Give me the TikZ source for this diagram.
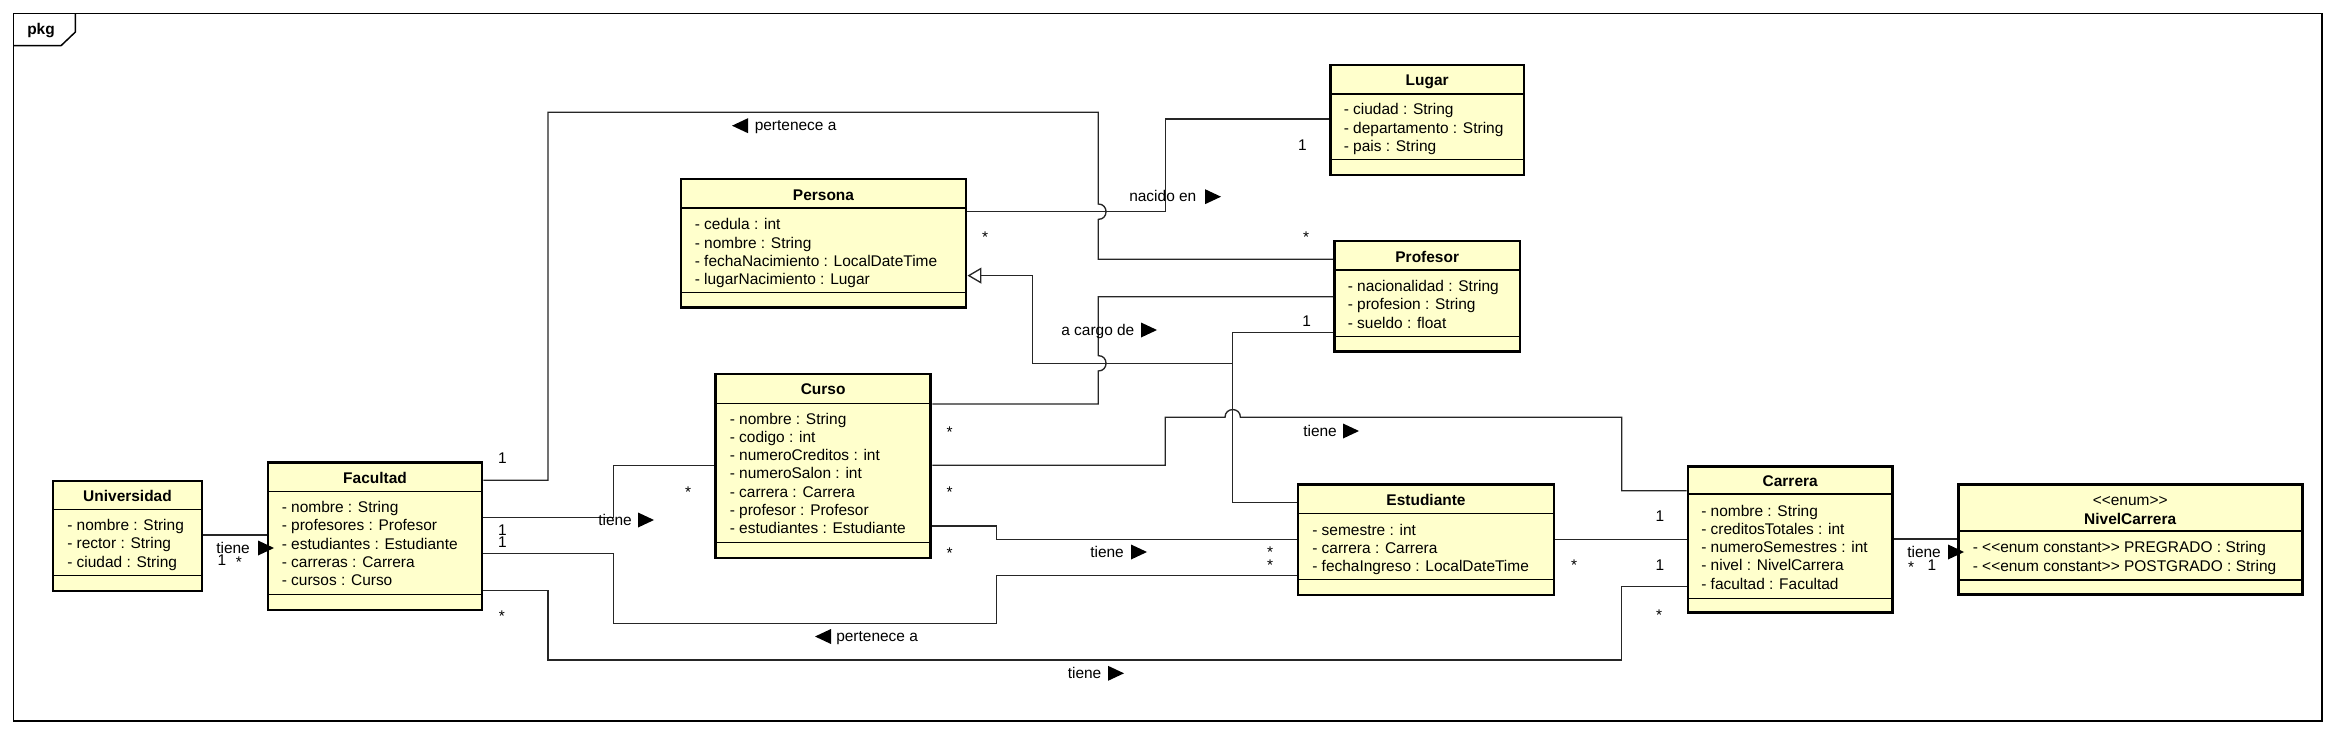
\documentclass[tikz,border=0pt]{standalone}
\usepackage{fontspec}
\setmainfont{Liberation Sans}
\usetikzlibrary{arrows.meta,fit}
\definecolor{classfill}{RGB}{255,255,204}
\newcommand\umlfont{\fontsize{11.6}{13.7}\selectfont}
\newcommand\dlt{<\kern0pt<}
\newcommand\dgt{>\kern0pt>}
\begin{document}
\begin{tikzpicture}[x=0.75pt,y=-0.75pt,
  every node/.style={font=\umlfont},
  classbox/.style={draw=black, line width=2.2pt, fill=classfill, inner sep=0pt, rectangle},
  sep/.style={line width=1pt, draw=black},
  ttl/.style={anchor=base, inner sep=0pt, font=\umlfont\bfseries},
  stereo/.style={anchor=base, inner sep=0pt},
  attr/.style={anchor=base west, inner sep=0pt},
  lbl/.style={anchor=base west, inner sep=0pt},
  mult/.style={anchor=base, inner sep=0pt},
  conn/.style={line width=1pt, draw=black!85},
  rtri/.pic={\fill (0,-7.5) -- (16,0) -- (0,7.5) -- cycle;},
  ltri/.pic={\fill (16,-7.5) -- (0,0) -- (16,7.5) -- cycle;}]
\useasboundingbox (0,0) rectangle (2336,734);
\fill[white] (0,0) rectangle (2336,734);
% frame
\draw[line width=1.1pt] (13.4,13.7) rectangle (2322,721);
\draw[line width=1.1pt] (13.4,45.7) -- (61,45.7) -- (75.4,32) -- (75.4,13.7);
\node[ttl] (pkg) at (41,35) {pkg};

% Universidad
\node[classbox, fit={(53,481)(202,591)}] (uni) {};
\draw[sep] (53,509.3) -- (202,509.3) (53,575.7) -- (202,575.7);
\node[ttl] (unit) at (127.5,501) {Universidad};
\node[attr] (uni1) at (67,530.7) {- nombre : String};
\node[attr] (uni2) at (67,548.9) {- rector : String};
\node[attr] (uni3) at (67,567.1) {- ciudad : String};

% Facultad
\node[classbox, fit={(268,462.3)(482,610)}] (fac) {};
\draw[sep] (268,491.7) -- (482,491.7) (268,594.3) -- (482,594.3);
\node[ttl] (fact) at (375,483) {Facultad};
\node[attr] (fac1) at (281.5,512.7) {- nombre : String};
\node[attr] (fac2) at (281.5,530.9) {- profesores : Profesor};
\node[attr] (fac3) at (281.5,549.1) {- estudiantes : Estudiante};
\node[attr] (fac4) at (281.5,567.3) {- carreras : Carrera};
\node[attr] (fac5) at (281.5,585.5) {- cursos : Curso};

% Persona
\node[classbox, fit={(681,179)(966,307.3)}] (pers) {};
\draw[sep] (681,208) -- (966,208) (681,292.3) -- (966,292.3);
\node[ttl] (perst) at (823.5,200.7) {Persona};
\node[attr] (pers1) at (694.5,230) {- cedula : int};
\node[attr] (pers2) at (694.5,248.2) {- nombre : String};
\node[attr] (pers3) at (694.5,266.4) {- fechaNacimiento : LocalDateTime};
\node[attr] (pers4) at (694.5,284.6) {- lugarNacimiento : Lugar};

% Lugar
\node[classbox, fit={(1330.5,65)(1524,175)}] (lug) {};
\draw[sep] (1330.5,94) -- (1524,94) (1330.5,159.3) -- (1524,159.3);
\node[ttl] (lugt) at (1427.2,85.7) {Lugar};
\node[attr] (lug1) at (1343.5,115) {- ciudad : String};
\node[attr] (lug2) at (1343.5,133.2) {- departamento : String};
\node[attr] (lug3) at (1343.5,151.4) {- pais : String};

% Profesor
\node[classbox, fit={(1334.5,241)(1520,351.7)}] (prof) {};
\draw[sep] (1334.5,270) -- (1520,270) (1334.5,336.7) -- (1520,336.7);
\node[ttl] (proft) at (1427.2,262.3) {Profesor};
\node[attr] (prof1) at (1347.5,291.7) {- nacionalidad : String};
\node[attr] (prof2) at (1347.5,309.9) {- profesion : String};
\node[attr] (prof3) at (1347.5,328.1) {- sueldo : float};

% Curso
\node[classbox, fit={(715.5,374)(930.8,558)}] (cur) {};
\draw[sep] (715.5,403.3) -- (930.8,403.3) (715.5,542.3) -- (930.8,542.3);
\node[ttl] (curt) at (823.1,394.3) {Curso};
\node[attr] (cur1) at (729.5,424) {- nombre : String};
\node[attr] (cur2) at (729.5,442.3) {- codigo : int};
\node[attr] (cur3) at (729.5,460.6) {- numeroCreditos : int};
\node[attr] (cur4) at (729.5,478.9) {- numeroSalon : int};
\node[attr] (cur5) at (729.5,497.2) {- carrera : Carrera};
\node[attr] (cur6) at (729.5,515.5) {- profesor : Profesor};
\node[attr] (cur7) at (729.5,533.8) {- estudiantes : Estudiante};

% Estudiante
\node[classbox, fit={(1298,484.3)(1554,595)}] (est) {};
\draw[sep] (1298,513.3) -- (1554,513.3) (1298,579.3) -- (1554,579.3);
\node[ttl] (estt) at (1426,505) {Estudiante};
\node[attr] (est1) at (1312,535) {- semestre : int};
\node[attr] (est2) at (1312,553.2) {- carrera : Carrera};
\node[attr] (est3) at (1312,571.4) {- fechaIngreso : LocalDateTime};

% Carrera
\node[classbox, fit={(1688,466.3)(1892.4,612.7)}] (car) {};
\draw[sep] (1688,494) -- (1892.4,494) (1688,598.3) -- (1892.4,598.3);
\node[ttl] (cart) at (1790.2,486.7) {Carrera};
\node[attr] (car1) at (1701,516) {- nombre : String};
\node[attr] (car2) at (1701,534.3) {- creditosTotales : int};
\node[attr] (car3) at (1701,552.6) {- numeroSemestres : int};
\node[attr] (car4) at (1701,570.9) {- nivel : NivelCarrera};
\node[attr] (car5) at (1701,589.2) {- facultad : Facultad};

% NivelCarrera
\node[classbox, fit={(1958.5,484.3)(2302,594.3)}] (niv) {};
\draw[sep] (1958.5,531) -- (2302,531) (1958.5,580) -- (2302,580);
\node[stereo] (nivs) at (2130.2,505.7) {\dlt enum\dgt};
\node[ttl] (nivt) at (2130.2,524) {NivelCarrera};
\node[attr] (niv1) at (1972.5,552.7) {- \dlt enum constant\dgt{} PREGRADO : String};
\node[attr] (niv2) at (1972.5,571) {- \dlt enum constant\dgt{} POSTGRADO : String};

% ---------- connectors ----------
\coordinate (a1) at (235,535);
\draw[conn] (uni.east |- a1) -- (fac.west |- a1);

\coordinate (b1) at (548,480.2);
\coordinate (b2) at (548,112.3);
\coordinate (b3) at (1098.3,112.3);
\coordinate (b4) at (1098.3,259.3);
\draw[conn] (fac.east |- b1) -- (b1) -- (b2) -- (b3) -- (1098.3,204)
  .. controls (1108.6,204) and (1108.6,219.4) .. (1098.3,219.4) -- (b4) -- (prof.west |- b4);

\coordinate (c1) at (1165.2,211.7);
\coordinate (c2) at (1165.2,119);
\draw[conn] (pers.east |- c1) -- (c1) -- (c2) -- (lug.west |- c2);

\coordinate (d1) at (1098.3,404);
\coordinate (d2) at (1098.3,296.7);
\draw[conn] (cur.east |- d1) -- (d1) -- (1098.3,371)
  .. controls (1108.6,371) and (1108.6,355.6) .. (1098.3,355.6) -- (d2) -- (prof.west |- d2);

\coordinate (g1) at (1232.7,332.3);
\coordinate (g2) at (1232.7,363.3);
\coordinate (g3) at (1232.7,502.7);
\coordinate (g4) at (1032.7,363.3);
\coordinate (g5) at (1032.7,275.6);
\draw[conn] (prof.west |- g1) -- (g1) -- (g3) -- (est.west |- g3);
\draw[conn, -{Triangle[length=10.5pt,width=12pt,fill=white]}] (g2) -- (g4) -- (g5) -- (pers.east |- g5);

\coordinate (e1) at (1165.2,465.3);
\coordinate (e2) at (1165.2,417.3);
\coordinate (e3) at (1621.7,417.3);
\coordinate (e4) at (1621.7,490.7);
\draw[conn] (cur.east |- e1) -- (e1) -- (e2) -- (1225,417.3)
  .. controls (1225,407) and (1240.4,407) .. (1240.4,417.3) -- (e3) -- (e4) -- (car.west |- e4);

\coordinate (f1) at (613.8,517.3);
\coordinate (f2) at (613.8,465.3);
\draw[conn] (fac.east |- f1) -- (f1) -- (f2) -- (cur.west |- f2);

\coordinate (h1) at (613.8,553.3);
\coordinate (h2) at (613.8,623.3);
\coordinate (h3) at (996.2,623.3);
\coordinate (h4) at (996.2,575.3);
\draw[conn] (fac.east |- h1) -- (h1) -- (h2) -- (h3) -- (h4) -- (est.west |- h4);

\coordinate (i1) at (996.2,526);
\coordinate (i2) at (996.2,539.3);
\draw[conn] (cur.east |- i1) -- (i1) -- (i2) -- (est.west |- i2);

\coordinate (j1) at (1620,539.3);
\draw[conn] (est.east |- j1) -- (car.west |- j1);

\coordinate (k1) at (548,590.7);
\coordinate (k2) at (548,660);
\coordinate (k3) at (1621.7,660);
\coordinate (k4) at (1621.7,586.7);
\draw[conn] (fac.east |- k1) -- (k1) -- (k2) -- (k3) -- (k4) -- (car.west |- k4);

\coordinate (n1) at (1925,539);
\draw[conn] (car.east |- n1) -- (niv.west |- n1);

% ---------- association labels ----------
\node[lbl] (l1) at (216,553) {tiene};       \pic at (258,548) {rtri};
\node[lbl] (l2) at (754.5,130.7) {pertenece a}; \pic at (732,125.7) {ltri};
\node[lbl] (l3) at (1129,201.7) {nacido en}; \pic at (1205,196.7) {rtri};
\node[lbl] (l4) at (1061,335) {a cargo de}; \pic at (1141,330) {rtri};
\node[lbl] (l5) at (1303,436) {tiene};      \pic at (1343,431) {rtri};
\node[lbl] (l6) at (598,525) {tiene};       \pic at (638,520) {rtri};
\node[lbl] (l7) at (836,641.5) {pertenece a}; \pic at (815,636.5) {ltri};
\node[lbl] (l8) at (1090,557) {tiene};      \pic at (1131,552) {rtri};
\node[lbl] (l9) at (1067.5,678.3) {tiene};  \pic at (1108,673.3) {rtri};
\node[lbl] (l10) at (1907,557) {tiene};     \pic at (1948,552) {rtri};

% ---------- multiplicities ----------
\node[mult] (m1) at (222,565.5) {1};
\node[mult] (m2) at (239,567.5) {*};
\node[mult] (m3) at (502.5,463) {1};
\node[mult] (m4) at (1306,243) {*};
\node[mult] (m5) at (985,243) {*};
\node[mult] (m6) at (1302.5,150.5) {1};
\node[mult] (m7) at (949.5,437) {*};
\node[mult] (m8) at (1306.6,326.5) {1};
\node[mult] (m9) at (949.5,497) {*};
\node[mult] (m10) at (1660,521) {1};
\node[mult] (m11) at (502.5,535.5) {1};
\node[mult] (m12) at (688,497) {*};
\node[mult] (m13) at (502.5,547) {1};
\node[mult] (m14) at (1270,570.5) {*};
\node[mult] (m15) at (949.5,558.5) {*};
\node[mult] (m16) at (1270,557) {*};
\node[mult] (m17) at (502,621) {*};
\node[mult] (m18) at (1659,620) {*};
\node[mult] (m19) at (1574,570) {*};
\node[mult] (m20) at (1660,570.5) {1};
\node[mult] (m21) at (1911,572) {*};
\node[mult] (m22) at (1932,570.5) {1};
\end{tikzpicture}
\end{document}
